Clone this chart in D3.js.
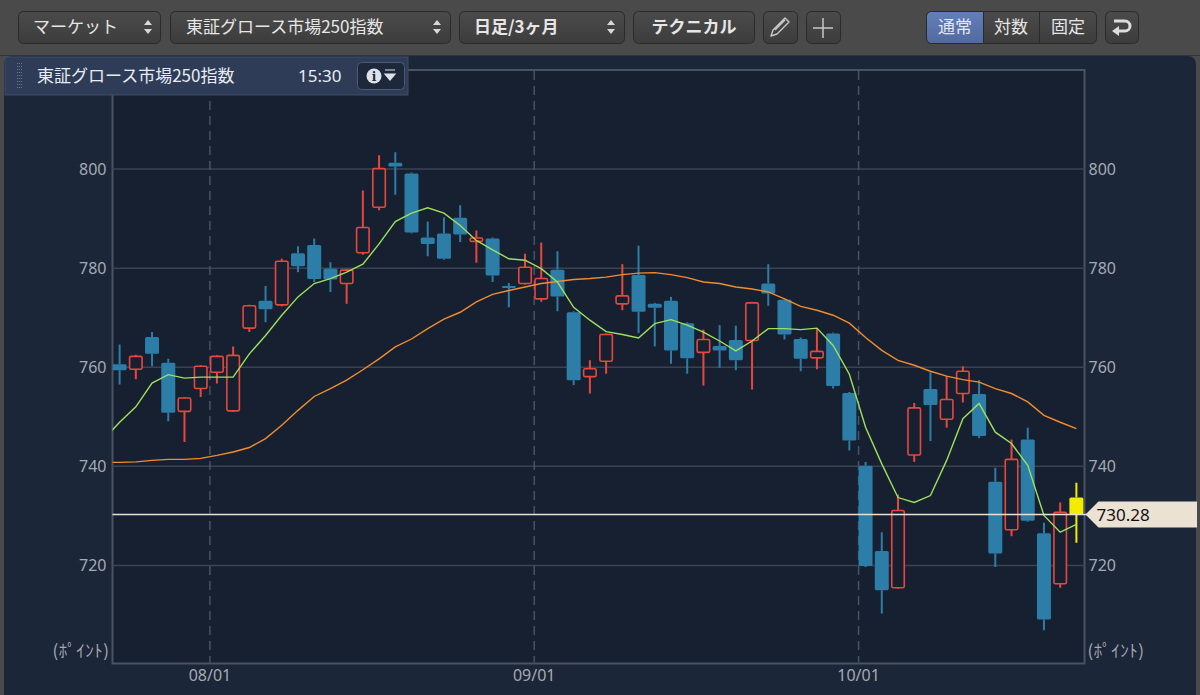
<!DOCTYPE html>
<html>
<head>
<meta charset="utf-8">
<script src="https://cdn.jsdelivr.net/npm/d3@7"></script>
<style>
  html, body { margin: 0; padding: 0; background: #4a4a4a; }
  svg { display: block; font-family: "Noto Sans CJK JP", "Noto Sans", sans-serif; }
</style>
</head>
<body>
<div id="chart"></div>
<script>
const FRAME_WIDTH = 1200;
const FRAME_HEIGHT = 695;
const PLOT = {left: 112.5, right: 1084.5, top: 70, bottom: 663.5};

// data
const dates = ["07/24","07/25","07/28","07/29","07/30","07/31",
  "08/01","08/04","08/05","08/06","08/07","08/08","08/12","08/13","08/14","08/15",
  "08/18","08/19","08/20","08/21","08/22","08/25","08/26","08/27","08/28","08/29",
  "09/01","09/02","09/03","09/04","09/05","09/08","09/09","09/10","09/11","09/12",
  "09/16","09/17","09/18","09/19","09/22","09/24","09/25","09/26","09/29","09/30",
  "10/01","10/02","10/03","10/06","10/07","10/08","10/09","10/10","10/14","10/15",
  "10/16","10/17","10/20","10/21"];
const opens = [760.6,759.6,766.1,760.9,751.1,755.7,759.0,751.2,767.9,773.4,
  772.6,783.0,784.7,779.9,776.9,783.1,792.3,801.3,799.1,786.2,
  787.0,790.2,785.4,786.0,776.4,776.9,773.8,779.7,771.1,758.1,
  761.2,772.8,778.6,772.8,773.4,768.9,763.0,764.3,765.5,765.4,
  776.9,773.6,765.7,761.9,766.8,754.8,740.1,722.9,715.5,742.3,
  755.6,749.5,754.7,754.6,736.9,727.2,745.4,726.5,716.3,733.7];
const highs = [764.6,762.5,767.1,761.7,754.0,760.4,762.4,764.2,772.6,776.4,
  781.9,784.4,786.0,781.2,779.8,795.7,802.8,803.4,799.3,789.4,
  790.3,792.7,787.6,786.2,777.0,782.9,785.2,783.4,771.3,761.4,
  766.8,780.8,784.5,773.0,774.2,769.1,767.6,768.5,768.4,773.2,
  780.8,773.8,766.0,767.7,767.0,755.0,740.9,726.7,734.3,752.8,
  759.0,758.2,760.2,757.4,739.7,745.4,747.8,728.6,732.7,736.7];
const lows = [756.5,757.6,760.2,749.1,744.9,754.0,756.7,751.0,767.1,769.1,
  772.3,779.2,777.2,775.2,772.8,782.7,791.7,794.8,787.0,782.4,
  781.7,785.3,781.1,777.2,772.1,776.7,773.2,771.3,756.4,754.7,
  758.7,771.5,766.9,764.2,760.7,758.7,756.3,759.9,759.4,755.5,
  772.4,765.6,759.2,759.6,755.7,743.2,719.7,710.3,715.3,740.9,
  745.1,747.8,752.9,745.7,719.7,725.9,728.8,706.9,715.5,724.6];
const closes = [759.4,762.2,762.7,750.8,753.8,760.2,762.2,762.4,772.4,771.7,
  781.4,780.4,777.8,777.7,779.6,788.2,800.1,800.5,787.2,784.9,
  781.9,786.8,786.1,778.5,776.1,780.2,777.9,774.3,757.4,759.7,
  766.6,774.4,771.2,772.0,763.4,761.8,765.6,763.4,761.4,773.0,
  774.9,766.6,761.7,763.2,756.2,745.2,719.9,715.0,731.1,751.8,
  752.4,753.5,759.2,746.1,722.4,741.4,729.0,709.1,730.7,730.28];
// 5-day and 25-day moving averages as drawn
const ma5 = [748.9,752.0,756.8,758.5,757.8,758.0,758.0,758.0,762.7,766.4,
  770.5,774.2,776.9,777.9,779.2,780.8,784.9,789.4,791.1,792.2,
  791.1,788.6,785.6,783.7,781.9,781.6,779.9,777.2,772.1,769.5,
  767.2,766.6,765.9,768.8,769.6,768.5,767.1,765.3,763.3,765.3,
  767.8,767.8,767.6,767.9,764.4,758.6,747.9,740.5,733.7,732.7,
  734.1,741.2,749.6,752.7,746.9,744.6,740.2,730.1,726.7,728.3];
const ma25 = [740.8,740.9,741.2,741.4,741.4,741.6,742.2,742.9,743.8,745.6,
  748.3,751.3,754.1,755.7,757.4,759.5,761.7,764.1,765.7,767.8,
  769.7,771.1,773.2,774.7,775.5,776.2,776.9,777.3,777.7,777.9,
  778.2,778.7,779.0,779.1,778.7,778.1,777.2,776.9,776.2,775.8,
  775.2,773.8,772.3,771.5,770.5,768.9,766.0,763.4,761.4,760.4,
  759.2,758.2,757.5,757.0,755.7,754.7,753.0,750.3,748.9,747.6];
const ma5Prev = 745.4;
const ma25Prev = 740.8;
const yTicks = [720, 740, 760, 780, 800];
const monthTicks = ["08/01", "09/01", "10/01"];
const lastPrice = 730.28;
const indexName = "東証グロース市場250指数";
const timeLabel = "15:30";
const unitLabel = "(ﾎﾟｲﾝﾄ)";

const COLORS = {
  up: "#e8473f", down: "#2c7ea8", last: "#f2ec00",
  ma5: "#9ee05c", ma25: "#f08c2e",
  grid: "#3b4351", text: "#a4aab3"
};

const svg = d3.select("#chart")
  .append("svg")
    .attr("width", FRAME_WIDTH)
    .attr("height", FRAME_HEIGHT);

const defs = svg.append("defs");
const grad = defs.append("linearGradient").attr("id", "btn").attr("x1", 0).attr("y1", 0).attr("x2", 0).attr("y2", 1);
grad.append("stop").attr("offset", "0%").attr("stop-color", "#4b4b4b");
grad.append("stop").attr("offset", "100%").attr("stop-color", "#3c3c3c");
const gradSel = defs.append("linearGradient").attr("id", "btnSel").attr("x1", 0).attr("y1", 0).attr("x2", 0).attr("y2", 1);
gradSel.append("stop").attr("offset", "0%").attr("stop-color", "#6480b8");
gradSel.append("stop").attr("offset", "100%").attr("stop-color", "#5169a0");
defs.append("clipPath").attr("id", "plotClip")
  .append("rect")
    .attr("x", PLOT.left).attr("y", PLOT.top)
    .attr("width", PLOT.right - PLOT.left).attr("height", PLOT.bottom - PLOT.top);

// toolbar
svg.append("rect").attr("x", 0).attr("y", 0).attr("width", FRAME_WIDTH).attr("height", 56).attr("fill", "#4a4a4a");
svg.append("line").attr("x1", 0).attr("x2", FRAME_WIDTH).attr("y1", 55.5).attr("y2", 55.5).attr("stroke", "#333");

function button(x, w, fill) {
  svg.append("rect")
    .attr("x", x + 0.5).attr("y", 11.5).attr("width", w).attr("height", 32).attr("rx", 5)
    .attr("fill", fill || "url(#btn)").attr("stroke", "#2a2a2a");
}
function spinner(cx) {
  svg.append("path").attr("d", `M${cx - 4},25 L${cx},20 L${cx + 4},25 Z`).attr("fill", "#d8d8d8");
  svg.append("path").attr("d", `M${cx - 4},29 L${cx},34 L${cx + 4},29 Z`).attr("fill", "#d8d8d8");
}
function btnText(x, txt, anchor, bold) {
  svg.append("text").attr("x", x).attr("y", 33).attr("text-anchor", anchor || "start")
    .attr("font-size", 17).attr("font-weight", bold ? "bold" : "normal")
    .attr("fill", "#e6e6e6").text(txt);
}

button(18, 142); btnText(33, "マーケット"); spinner(148);
button(170, 280); btnText(186, indexName); spinner(437);
button(459, 165); btnText(474, "日足/3ヶ月", "start", true); spinner(611);
button(633, 121); btnText(694, "テクニカル", "middle", true);
button(763, 34);
svg.append("path")
  .attr("d", "M771,36 L773,30 L785,18 L789,22 L777,34 Z M775,30 L785,20 M778,33 L787,24")
  .attr("fill", "none").attr("stroke", "#c8c8c8").attr("stroke-width", 1.4).attr("stroke-linejoin", "round");
button(806, 34);
svg.append("path").attr("d", "M823,18 V38 M813,28 H833").attr("stroke", "#c8c8c8").attr("stroke-width", 1.5);

// segmented control
svg.append("rect").attr("x", 926.5).attr("y", 11.5).attr("width", 170).attr("height", 32).attr("rx", 5)
  .attr("fill", "url(#btn)").attr("stroke", "#2a2a2a");
svg.append("path").attr("d", "M931.5,11.5 H983.5 V43.5 H931.5 A5,5 0 0 1 926.5,38.5 V16.5 A5,5 0 0 1 931.5,11.5 Z")
  .attr("fill", "url(#btnSel)").attr("stroke", "#2a2a2a");
svg.append("line").attr("x1", 1039.5).attr("x2", 1039.5).attr("y1", 12).attr("y2", 43).attr("stroke", "#2a2a2a");
[["通常", 955], ["対数", 1011], ["固定", 1068]].forEach(([t, x]) => btnText(x, t, "middle"));

button(1105, 33);
svg.append("path").attr("d", "M1114,21 H1125 A5,5 0 0 1 1125,31 H1117")
  .attr("fill", "none").attr("stroke", "#dcdcdc").attr("stroke-width", 3);
svg.append("path").attr("d", "M1112,31 L1119,26 L1119,36 Z").attr("fill", "#dcdcdc");

// chart panel
svg.append("rect").attr("x", 0).attr("y", 56).attr("width", FRAME_WIDTH).attr("height", FRAME_HEIGHT - 56)
  .attr("fill", "#4a4a4a");
svg.append("rect").attr("x", 4).attr("y", 56).attr("width", FRAME_WIDTH - 8).attr("height", FRAME_HEIGHT - 56 + 10)
  .attr("rx", 8).attr("fill", "#1b2638");

svg.append("rect")
  .attr("x", PLOT.left).attr("y", PLOT.top)
  .attr("width", PLOT.right - PLOT.left).attr("height", PLOT.bottom - PLOT.top)
  .attr("fill", "#172030").attr("stroke", "#4b5363").attr("stroke-width", 2);

// scales
const X_SCALE = d3.scaleBand().domain(dates).range([PLOT.left - 1, PLOT.right]);
const Y_SCALE = d3.scaleLinear().domain([700, 820]).range([664.5, 70]);
const BODY_W = 14;
const cx = (d) => X_SCALE(d) + X_SCALE.bandwidth() / 2;

// grid
svg.append("g").selectAll("line")
  .data(yTicks).enter().append("line")
    .attr("x1", PLOT.left).attr("x2", PLOT.right)
    .attr("y1", (d) => Y_SCALE(d)).attr("y2", (d) => Y_SCALE(d))
    .attr("stroke", COLORS.grid).attr("stroke-width", 1.5);

svg.append("g").selectAll("line")
  .data(monthTicks).enter().append("line")
    .attr("x1", (d) => cx(d) - BODY_W / 2).attr("x2", (d) => cx(d) - BODY_W / 2)
    .attr("y1", PLOT.top + 1).attr("y2", PLOT.bottom - 1)
    .attr("stroke", "#4a5262").attr("stroke-width", 1.5).attr("stroke-dasharray", "9,6");

// y axes (left and right)
const yAxisL = d3.axisLeft(Y_SCALE).tickValues(yTicks).tickSize(0).tickPadding(5);
const yAxisR = d3.axisRight(Y_SCALE).tickValues(yTicks).tickSize(0).tickPadding(4);
const gl = svg.append("g").attr("transform", `translate(${PLOT.left - 1},0)`).call(yAxisL);
const gr = svg.append("g").attr("transform", `translate(${PLOT.right},0)`).call(yAxisR);
[gl, gr].forEach((g) => {
  g.select(".domain").remove();
  g.selectAll("text").attr("font-size", 16).attr("fill", COLORS.text)
    .attr("font-family", "'Noto Sans', sans-serif");
});

// x axis
const xAxis = d3.axisBottom(X_SCALE).tickValues(monthTicks).tickSize(0).tickPadding(6);
const gx = svg.append("g").attr("transform", `translate(${-BODY_W / 2},${PLOT.bottom})`).call(xAxis);
gx.select(".domain").remove();
gx.selectAll("text").attr("font-size", 16).attr("fill", COLORS.text)
  .attr("font-family", "'Noto Sans', sans-serif");

// unit labels
svg.append("text").attr("x", PLOT.left - 3).attr("y", 657).attr("text-anchor", "end")
  .attr("font-size", 17).attr("letter-spacing", 0.5).attr("fill", COLORS.text).text(unitLabel);
svg.append("text").attr("x", PLOT.right + 3).attr("y", 657)
  .attr("font-size", 17).attr("letter-spacing", 0.5).attr("fill", COLORS.text).text(unitLabel);

// candles
const candles = dates.map((d, i) => ({
  date: d, o: opens[i], h: highs[i], l: lows[i], c: closes[i], last: i === dates.length - 1
}));
const colorOf = (d) => d.last ? COLORS.last : (d.c >= d.o ? COLORS.up : COLORS.down);

const plot = svg.append("g").attr("clip-path", "url(#plotClip)");

plot.selectAll(".wickTop").data(candles).enter().append("line")
  .attr("x1", (d) => cx(d.date)).attr("x2", (d) => cx(d.date))
  .attr("y1", (d) => Y_SCALE(d.h)).attr("y2", (d) => Y_SCALE(Math.max(d.o, d.c)))
  .attr("stroke", colorOf).attr("stroke-width", 2);
plot.selectAll(".wickBot").data(candles).enter().append("line")
  .attr("x1", (d) => cx(d.date)).attr("x2", (d) => cx(d.date))
  .attr("y1", (d) => Y_SCALE(Math.min(d.o, d.c))).attr("y2", (d) => Y_SCALE(d.l))
  .attr("stroke", colorOf).attr("stroke-width", 2);

plot.selectAll(".body").data(candles).enter().append("rect")
  .attr("x", (d) => cx(d.date) - BODY_W / 2 + (d.c >= d.o && !d.last ? 0.75 : 0))
  .attr("width", (d) => BODY_W - (d.c >= d.o && !d.last ? 1.5 : 0))
  .attr("y", (d) => Y_SCALE(Math.max(d.o, d.c)))
  .attr("height", (d) => Math.max(2, Y_SCALE(Math.min(d.o, d.c)) - Y_SCALE(Math.max(d.o, d.c))))
  .attr("rx", 1.5)
  .attr("fill", (d) => (d.c >= d.o && !d.last) ? "#172030" : colorOf(d))
  .attr("stroke", (d) => (d.c >= d.o && !d.last) ? COLORS.up : "none")
  .attr("stroke-width", 1.6);

// moving averages
const step = X_SCALE.step();
function maLine(vals, prev, color) {
  const pts = [[cx(dates[0]) - step, prev]].concat(vals.map((v, i) => [cx(dates[i]), v]));
  plot.append("path")
    .attr("d", d3.line().x((p) => p[0]).y((p) => Y_SCALE(p[1]))(pts))
    .attr("fill", "none").attr("stroke", color).attr("stroke-width", 1.4);
}
maLine(ma25, ma25Prev, COLORS.ma25);
maLine(ma5, ma5Prev, COLORS.ma5);

// last price line and tag
const yl = Y_SCALE(lastPrice);
svg.append("line").attr("x1", PLOT.left).attr("x2", PLOT.right + 2)
  .attr("y1", yl).attr("y2", yl).attr("stroke", "#e8e1d2").attr("stroke-width", 1.6);
svg.append("path")
  .attr("d", `M${PLOT.right + 1},${yl} L${PLOT.right + 14},${yl - 13} H1197 V${yl + 13} H${PLOT.right + 14} Z`)
  .attr("fill", "#ece2d4");
svg.append("text").attr("x", PLOT.right + 12).attr("y", yl + 6.5)
  .attr("font-size", 17).attr("fill", "#111").attr("font-family", "'Noto Sans', sans-serif")
  .text(lastPrice.toFixed(2));

// info panel
svg.append("rect").attr("x", 5).attr("y", 57).attr("width", 403).attr("height", 38)
  .attr("fill", "#2e3c57").attr("stroke", "#3f4d68");
for (let r = 0; r < 9; r++) {
  for (let c = 0; c < 3; c++) {
    svg.append("rect").attr("x", 17 + c * 2).attr("y", 63 + r * 3).attr("width", 1).attr("height", 1)
      .attr("fill", "#6a7690");
  }
}
svg.append("text").attr("x", 37).attr("y", 82).attr("font-size", 17).attr("fill", "#e8ecf2").text(indexName);
svg.append("text").attr("x", 298).attr("y", 82).attr("font-size", 17).attr("fill", "#e8ecf2")
  .attr("font-family", "'Noto Sans', sans-serif").text(timeLabel);
svg.append("rect").attr("x", 357.5).attr("y", 62.5).attr("width", 47).attr("height", 27).attr("rx", 4)
  .attr("fill", "#1d283b").attr("stroke", "#4c5a76");
svg.append("circle").attr("cx", 374).attr("cy", 76).attr("r", 7.5).attr("fill", "#dde2ea");
svg.append("text").attr("x", 374).attr("y", 81).attr("text-anchor", "middle").attr("font-size", 12)
  .attr("font-weight", "bold").attr("fill", "#1d283b").attr("font-family", "'DejaVu Serif', serif").text("i");
svg.append("path").attr("d", "M385,70 H395 M385,74 L395,74 L390,80 Z").attr("fill", "#dde2ea")
  .attr("stroke", "#dde2ea").attr("stroke-width", 1.2);
</script>
</body>
</html>
